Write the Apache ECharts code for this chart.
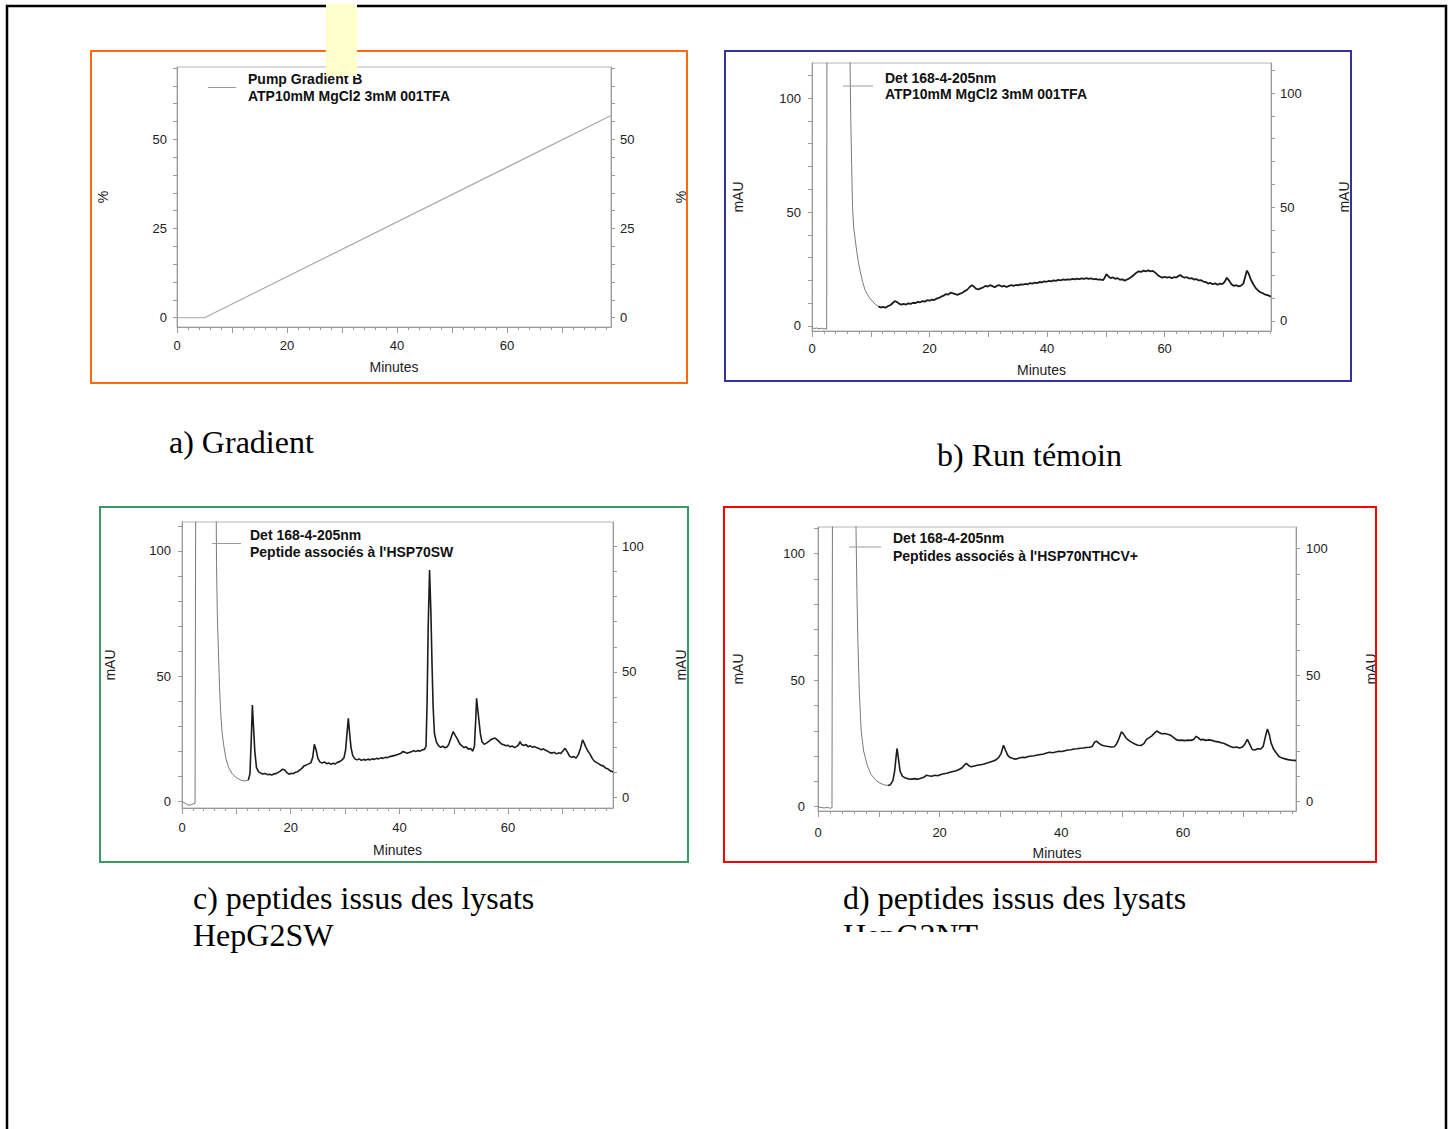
<!DOCTYPE html>
<html><head><meta charset="utf-8">
<script src="https://cdn.jsdelivr.net/npm/echarts@6/dist/echarts.min.js"></script>
<style>html,body{margin:0;padding:0;background:#fff}#c{width:1453px;height:1129px}</style>
</head><body><div id="c"></div>
<script>
// ---------- tick labels ----------
const X_LABELS = [0, 20, 40, 60];
const X_MAJOR_TICKS = [0, 10, 20, 30, 40, 50, 60, 70];
const X_MINOR_TICKS = [2,4,6,8,12,14,16,18,22,24,26,28,32,34,36,38,42,44,46,48,52,54,56,58,62,64,66,68,72,74,76,78];
const PCT_LABELS = [0, 25, 50];
const PCT_TICKS = [0,5,10,15,20,25,30,35,40,45,50,55,60,65,70];
const MAU_LABELS = [0, 50, 100];
const MAU_TICKS = [0,10,20,30,40,50,60,70,80,90,100,110];

// ---------- a) gradient (min, %) ----------
const gradientB = [[0,0],[5,0],[78.9,56.7]];

// ---------- b) run témoin (min, mAU) ----------
const runFront = [[0,-0.8],[0.4,-1.1],[0.8,-0.9],[1.2,-1.2],[1.6,-1.0],[2.0,-1.3],[2.3,-1.1],[2.5,-1.4],[2.55,150],[6.4,150],[6.5,110],[6.6,90],[6.75,70],[6.9,52],[7.1,43],[7.35,38],[7.6,33],[7.9,28],[8.2,24],[8.6,19.5],[9.0,16],[9.4,14],[9.8,12.3],[10.3,10.8],[10.8,9.4],[11.3,8.6]];
const runBase = [[11.3,8.6],[11.7,8.1],[12.1,8.4],[12.5,8.0],[12.9,8.7],[13.3,9.1],[13.7,10.0],[14.1,10.9],[14.4,10.6],[14.8,9.8],[15.2,9.4],[15.6,9.7],[16.0,9.4],[16.4,9.9],[16.8,9.7],[17.2,10.2],[17.6,10.0],[18.0,10.6],[18.4,10.4],[18.8,10.9],[19.2,10.7],[19.6,11.3],[20.0,11.1],[20.4,11.6],[20.8,11.4],[21.2,12.0],[21.6,12.3],[22.0,12.9],[22.4,13.3],[22.8,14.0],[23.2,13.8],[23.6,14.6],[24.0,14.3],[24.4,14.0],[24.8,13.7],[25.2,14.2],[25.6,14.6],[26.0,15.3],[26.4,15.9],[26.8,17.0],[27.2,17.9],[27.5,17.4],[27.9,16.4],[28.3,16.0],[28.7,16.5],[29.1,16.9],[29.5,17.6],[29.9,17.3],[30.3,17.9],[30.7,17.5],[31.1,17.0],[31.5,17.7],[31.9,17.9],[32.3,17.3],[32.7,17.6],[33.1,17.1],[33.5,17.6],[33.9,17.9],[34.3,17.6],[34.7,18.0],[35.1,17.8],[35.5,18.3],[35.9,18.1],[36.3,18.5],[36.7,18.3],[37.1,18.8],[37.5,18.6],[37.9,19.0],[38.3,18.8],[38.7,19.3],[39.1,19.1],[39.5,19.6],[39.9,19.4],[40.3,19.8],[40.7,19.6],[41.1,20.0],[41.5,19.8],[41.9,20.2],[42.3,20.0],[42.7,20.4],[43.1,20.2],[43.5,20.5],[43.9,20.3],[44.3,20.7],[44.7,20.5],[45.1,20.8],[45.5,20.6],[45.9,20.9],[46.3,20.7],[46.7,21.0],[47.1,20.7],[47.5,20.9],[47.9,20.5],[48.3,20.7],[48.7,20.3],[49.1,20.4],[49.5,20.1],[49.8,21.2],[50.1,22.8],[50.4,21.8],[50.8,21.0],[51.2,21.3],[51.6,20.7],[52.0,21.0],[52.4,20.3],[52.8,20.5],[53.2,19.9],[53.6,20.4],[54.0,20.9],[54.4,21.6],[54.8,22.5],[55.2,23.4],[55.6,24.0],[56.0,23.7],[56.4,24.3],[56.8,24.0],[57.2,24.4],[57.6,24.0],[58.0,24.2],[58.4,23.4],[58.8,22.4],[59.2,21.7],[59.6,21.2],[60.0,21.6],[60.4,21.2],[60.8,21.5],[61.2,21.0],[61.6,21.4],[62.0,21.3],[62.4,22.0],[62.7,22.4],[63.0,21.6],[63.4,21.2],[63.8,21.4],[64.2,20.8],[64.6,21.0],[65.0,20.4],[65.4,20.6],[65.8,20.0],[66.2,20.1],[66.6,19.5],[67.0,19.3],[67.4,18.6],[67.8,18.9],[68.2,18.3],[68.6,18.7],[69.0,18.1],[69.4,18.6],[69.8,18.4],[70.2,19.3],[70.6,21.2],[71.0,19.8],[71.4,18.2],[71.8,17.6],[72.2,17.9],[72.6,17.4],[73.0,17.7],[73.4,18.6],[73.7,21.5],[74.0,24.3],[74.3,23.0],[74.7,20.2],[75.1,18.3],[75.5,16.6],[75.9,15.6],[76.3,14.8],[76.7,14.4],[77.1,13.8],[77.5,13.6],[77.9,13.1],[78.1,13.0]];

// ---------- c) HepG2SW (min, mAU) ----------
const swFront = [[0,0],[0.5,-0.6],[1.0,-1.3],[1.5,-1.5],[2.0,-1.0],[2.4,-0.8],[2.55,150],[6.2,150],[6.35,95],[6.5,75],[6.7,60],[6.9,46],[7.1,36],[7.4,27],[7.7,22],[8.1,17],[8.6,13.5],[9.2,11.2],[9.8,9.8],[10.4,9.0],[11.0,8.4],[11.6,8.2],[12.2,8.5]];
const swBase = [[12.2,8.5],[12.5,11],[12.75,25],[12.95,38.5],[13.15,30],[13.4,20],[13.7,13.5],[14.1,11.8],[14.5,11.3],[14.9,11.0],[15.3,11.2],[15.7,10.7],[16.1,10.9],[16.5,10.6],[16.9,11.0],[17.3,11.1],[17.7,11.6],[18.1,12.1],[18.5,12.9],[18.9,12.6],[19.3,11.5],[19.7,10.9],[20.1,11.3],[20.5,11.1],[20.9,11.7],[21.3,11.9],[21.7,12.6],[22.1,13.3],[22.5,14.3],[22.9,14.6],[23.3,15.0],[23.7,15.4],[24.05,17.6],[24.35,22.8],[24.7,20.3],[25.0,17.2],[25.4,15.7],[25.8,15.3],[26.2,15.8],[26.6,15.1],[27.0,15.4],[27.4,14.8],[27.8,15.3],[28.2,15.0],[28.6,15.6],[29.0,15.9],[29.4,16.5],[29.8,17.4],[30.1,20.6],[30.35,27],[30.6,33.2],[30.85,27],[31.1,21.5],[31.4,18.4],[31.8,17.0],[32.2,16.6],[32.6,17.0],[33.0,16.4],[33.4,16.8],[33.8,16.5],[34.2,16.9],[34.6,16.6],[35.0,17.0],[35.4,16.8],[35.8,17.2],[36.2,17.0],[36.6,17.4],[37.0,17.2],[37.4,17.6],[37.8,17.5],[38.2,17.9],[38.6,18.1],[39.0,18.3],[39.4,18.5],[39.8,18.8],[40.2,19.1],[40.6,19.9],[41.0,19.7],[41.4,19.2],[41.8,19.5],[42.2,19.8],[42.6,20.3],[43.0,19.9],[43.4,20.3],[43.8,20.1],[44.2,20.6],[44.6,20.8],[44.9,22.0],[45.1,40],[45.3,70],[45.55,92.3],[45.8,75],[46.0,55],[46.2,38],[46.45,27],[46.8,23.8],[47.2,22.3],[47.6,21.6],[48.0,22.1],[48.4,21.4],[48.8,21.8],[49.1,22.9],[49.5,25.4],[49.9,27.9],[50.3,26.3],[50.7,24.8],[51.1,23.0],[51.5,22.2],[51.9,21.5],[52.3,21.8],[52.7,20.9],[53.1,21.1],[53.5,20.1],[53.8,22.0],[54.05,33],[54.2,41.2],[54.4,37],[54.6,33],[54.9,27],[55.2,23.8],[55.6,22.8],[56.0,23.3],[56.4,23.9],[56.8,24.6],[57.2,25.0],[57.6,25.3],[58.0,24.6],[58.4,23.8],[58.8,22.9],[59.2,22.6],[59.6,22.2],[60.0,22.4],[60.4,21.8],[60.8,22.1],[61.2,21.5],[61.6,22.0],[61.95,22.7],[62.2,23.9],[62.5,22.7],[62.9,22.3],[63.3,22.7],[63.7,21.8],[64.1,22.2],[64.5,21.6],[64.9,21.9],[65.3,21.4],[65.7,21.1],[66.1,20.6],[66.5,21.0],[66.9,20.4],[67.3,20.0],[67.7,19.5],[68.1,19.3],[68.5,19.6],[68.9,19.0],[69.3,19.4],[69.7,19.1],[70.1,20.2],[70.5,21.2],[70.9,19.8],[71.3,18.1],[71.7,17.6],[72.1,17.9],[72.5,17.3],[72.9,18.6],[73.3,21.0],[73.7,24.6],[74.0,23.3],[74.3,21.7],[74.7,20.1],[75.1,18.8],[75.5,17.1],[75.9,16.0],[76.3,15.5],[76.7,15.0],[77.1,14.4],[77.5,14.2],[77.9,13.4],[78.3,13.1],[78.7,12.4],[79.3,11.8]];

// ---------- d) HepG2NT (min, mAU) ----------
const ntFront = [[0,0],[0.5,-0.3],[1.0,-0.5],[1.5,-0.3],[2.0,-0.6],[2.3,-0.4],[2.4,150],[6.1,150],[6.25,110],[6.4,85],[6.55,66],[6.8,45],[7.1,30],[7.5,22],[8.1,16.4],[8.7,12.8],[9.5,10.5],[10.2,9.3],[10.9,8.6],[11.5,8.4]];
const ntBase = [[11.5,8.4],[11.9,8.7],[12.3,10.2],[12.6,14],[12.85,20],[13.0,23],[13.2,19.5],[13.5,14],[13.9,12.0],[14.4,11.3],[14.9,11.0],[15.4,10.9],[15.9,11.1],[16.4,10.8],[16.9,11.2],[17.4,11.6],[17.8,12.4],[18.2,12.2],[18.7,12.0],[19.2,12.4],[19.7,12.2],[20.2,12.7],[20.7,13.0],[21.2,13.2],[21.7,13.6],[22.2,13.9],[22.7,14.2],[23.2,14.7],[23.7,15.4],[24.1,16.5],[24.4,17.1],[24.8,16.2],[25.2,15.8],[25.7,16.1],[26.2,16.4],[26.7,16.6],[27.2,16.8],[27.7,17.2],[28.2,17.6],[28.7,18.0],[29.2,18.4],[29.7,19.4],[30.1,21.0],[30.5,24.3],[30.8,22.5],[31.2,20.3],[31.6,19.4],[32.1,19.0],[32.6,18.8],[33.1,19.2],[33.6,19.5],[34.1,19.4],[34.6,19.8],[35.1,20.0],[35.6,20.1],[36.1,20.4],[36.6,20.6],[37.1,20.8],[37.6,21.2],[38.1,21.5],[38.6,21.3],[39.1,21.6],[39.6,21.9],[40.1,21.8],[40.6,22.1],[41.1,22.4],[41.6,22.5],[42.1,22.8],[42.6,22.9],[43.1,23.1],[43.6,23.2],[44.1,23.4],[44.6,23.5],[45.1,23.8],[45.5,25.6],[45.8,25.9],[46.2,25.0],[46.7,24.3],[47.2,24.0],[47.7,23.8],[48.2,23.6],[48.7,23.7],[49.1,24.8],[49.5,27.0],[49.9,29.6],[50.3,28.5],[50.7,27.0],[51.1,26.2],[51.6,25.4],[52.1,24.8],[52.6,24.3],[53.1,24.2],[53.6,24.9],[54.0,26.6],[54.4,27.2],[54.9,28.0],[55.3,29.0],[55.7,29.9],[56.1,29.3],[56.5,28.8],[57.0,28.9],[57.5,28.6],[58.0,28.2],[58.5,27.3],[58.9,26.5],[59.3,26.2],[59.8,26.3],[60.3,26.1],[60.8,26.3],[61.3,26.2],[61.8,26.6],[62.2,27.8],[62.5,27.3],[62.9,26.4],[63.3,26.6],[63.8,26.2],[64.3,26.4],[64.8,26.2],[65.3,25.8],[65.8,25.6],[66.3,25.3],[66.8,25.0],[67.3,24.4],[67.8,23.8],[68.3,23.4],[68.8,23.6],[69.3,23.2],[69.8,23.6],[70.2,24.8],[70.6,26.6],[71.0,24.6],[71.4,22.6],[71.8,22.4],[72.3,22.9],[72.8,22.8],[73.2,23.8],[73.6,28.0],[73.9,30.7],[74.2,28.6],[74.5,25.2],[74.9,22.8],[75.3,21.4],[75.8,19.8],[76.3,19.2],[76.8,18.9],[77.3,18.6],[77.8,18.4],[78.3,18.3],[78.6,18.2]];

// ---------- layout (positions only) ----------
const panels = [
  {grid:{left:177,top:67,width:434,height:260}, xMax:78.9, yL:[-2.6,70.3], yR:[-2.6,70.3],
   yLabels:PCT_LABELS, yTicks:PCT_TICKS, yName:'%', gapL:67, gapR:63, mL:10, mR:9, xM:12, xGap:33,
   legend:{left:208,top:70.5,w:28,lh:17,pad:7}},
  {grid:{left:812,top:63,width:459,height:268}, xMax:78.1, yL:[-2.2,115.4], yR:[-4.4,113.2],
   yLabels:MAU_LABELS, yTicks:MAU_TICKS, yName:'mAU', gapL:67, gapR:66, mL:11, mR:9, xM:11, xGap:32,
   legend:{left:843,top:70,w:30,lh:16,pad:7}},
  {grid:{left:182,top:522,width:431,height:286}, xMax:79.3, yL:[-2.6,111.5], yR:[-4.1,109.6],
   yLabels:MAU_LABELS, yTicks:MAU_TICKS, yName:'mAU', gapL:65, gapR:61, mL:11, mR:9, xM:13, xGap:35,
   legend:{left:212,top:526.5,w:29,lh:17,pad:4}},
  {grid:{left:818,top:527,width:478,height:284}, xMax:78.6, yL:[-1.7,110.5], yR:[-3.7,108.5],
   yLabels:MAU_LABELS, yTicks:MAU_TICKS, yName:'mAU', gapL:73, gapR:68, mL:13, mR:10, xM:15, xGap:35,
   legend:{left:849,top:529,w:32,lh:18,pad:7}}
];

const NAME_A = 'Pump Gradient B\nATP10mM MgCl2 3mM 001TFA';
const NAME_B = 'Det 168-4-205nm\nATP10mM MgCl2 3mM 001TFA';
const NAME_C = "Det 168-4-205nm\nPeptide associés à l'HSP70SW";
const NAME_D = "Det 168-4-205nm\nPeptides associés à l'HSP70NTHCV+";
const legendNames = [NAME_A, NAME_B, NAME_C, NAME_D];

const FONT = '"Liberation Sans", Arial, sans-serif';
const AXC = '#9a9a9a';
const TXT = '#222';

const grids = [], xAxes = [], yAxes = [], legends = [];
panels.forEach((p, i) => {
  grids.push(Object.assign({show:true, borderColor:'#b5b5b5', borderWidth:1, backgroundColor:'transparent'}, p.grid));
  xAxes.push({gridIndex:i, type:'value', position:'bottom', min:0, max:p.xMax,
    axisLine:{show:true, onZero:false, lineStyle:{color:AXC, width:1}},
    axisTick:{show:true, customValues:X_MAJOR_TICKS.filter(v=>v<=p.xMax), length:6, lineStyle:{color:AXC}},
    axisLabel:{show:true, customValues:X_LABELS, margin:p.xM, color:TXT, fontSize:13, fontFamily:FONT},
    splitLine:{show:false},
    name:'Minutes', nameLocation:'middle', nameGap:p.xGap,
    nameTextStyle:{color:TXT, fontSize:14, fontFamily:FONT}});
  xAxes.push({gridIndex:i, type:'value', position:'bottom', min:0, max:p.xMax,
    axisLine:{show:false, onZero:false},
    axisTick:{show:true, customValues:X_MINOR_TICKS.filter(v=>v<=p.xMax), length:3, lineStyle:{color:AXC}},
    axisLabel:{show:false}, splitLine:{show:false}});
  [['left', p.yL, p.gapL, p.mL], ['right', p.yR, p.gapR, p.mR]].forEach(([pos, r, gap, m]) => {
    yAxes.push({gridIndex:i, type:'value', position:pos, min:r[0], max:r[1],
      axisLine:{show:true, onZero:false, lineStyle:{color:AXC, width:1}},
      axisTick:{show:true, customValues:p.yTicks.filter(v=>v>=r[0] && v<=r[1]), length:4, lineStyle:{color:AXC}},
      axisLabel:{show:true, customValues:p.yLabels, margin:m, color:TXT, fontSize:13, fontFamily:FONT},
      splitLine:{show:false},
      name:p.yName, nameLocation:'middle', nameRotate:90, nameGap:gap,
      nameTextStyle:{color:TXT, fontSize:14, fontFamily:FONT}});
  });
  const L = p.legend;
  legends.push({data:[legendNames[i]], left:L.left, top:L.top, padding:0, orient:'vertical',
    icon:'rect', itemWidth:L.w, itemHeight:1, selectedMode:false,
    itemStyle:{color:'#9a9a9a', borderWidth:0},
    textStyle:{fontWeight:'bold', fontSize:14, color:'#111', fontFamily:FONT, lineHeight:L.lh, padding:[0,0,0,L.pad]}});
});

function lineSeries(name, data, i, color, width, z) {
  return {name, type:'line', data, xAxisIndex:2*i, yAxisIndex:2*i, showSymbol:false, symbol:'none',
    clip:true, animation:false, z, color, lineStyle:{color, width}, emphasis:{disabled:true}};
}
const series = [
  lineSeries(NAME_A, gradientB, 0, '#a8a8a8', 1.2, 3),
  lineSeries(NAME_B, runFront, 1, '#7a7a7a', 1, 3),
  lineSeries('Run témoin', runBase, 1, '#1c1c1c', 1.8, 4),
  lineSeries(NAME_C, swFront, 2, '#7a7a7a', 1, 3),
  lineSeries('HepG2SW', swBase, 2, '#1c1c1c', 1.6, 4),
  lineSeries(NAME_D, ntFront, 3, '#7a7a7a', 1, 3),
  lineSeries('HepG2NT', ntBase, 3, '#1c1c1c', 1.6, 4)
];

const SERIF = '32px "Liberation Serif", "Times New Roman", serif';
function caption(text, x, y) {
  return {type:'text', x, y, z:50, style:{text, font:SERIF, fill:'#000', align:'left', verticalAlign:'middle'}};
}
function frame(x, y, w, h, color, lw) {
  return {type:'rect', z:1, silent:true, shape:{x, y, width:w, height:h}, style:{fill:'none', stroke:color, lineWidth:lw}};
}
const graphics = [
  frame(7, 6, 1439, 1200, '#000', 2.5),
  frame(91, 51, 596, 332, '#ff6a10', 2),
  frame(725, 51, 626, 330, '#333399', 2),
  frame(100, 507, 588, 355, '#3a9a66', 2),
  frame(724, 507, 652, 355, '#ff0000', 2),
  {type:'rect', z:100, silent:true, shape:{x:326, y:4, width:31, height:72}, style:{fill:'#ffffcc'}},
  caption('a) Gradient', 169, 442),
  caption('b) Run témoin', 937, 455),
  caption('c) peptides issus des lysats', 193, 898),
  caption('HepG2SW', 193, 935),
  caption('d) peptides issus des lysats', 843, 898),
  caption('HepG2NT', 843, 935),
  {type:'rect', z:60, silent:true, shape:{x:835, y:932, width:200, height:30}, style:{fill:'#ffffff'}}
];

const chart = echarts.init(document.getElementById('c'), null, {renderer:'svg', width:1453, height:1129});
chart.setOption({
  animation:false,
  backgroundColor:'#ffffff',
  textStyle:{fontFamily:FONT},
  grid:grids, xAxis:xAxes, yAxis:yAxes, legend:legends, series,
  graphic:{elements:graphics}
});
</script></body></html>
